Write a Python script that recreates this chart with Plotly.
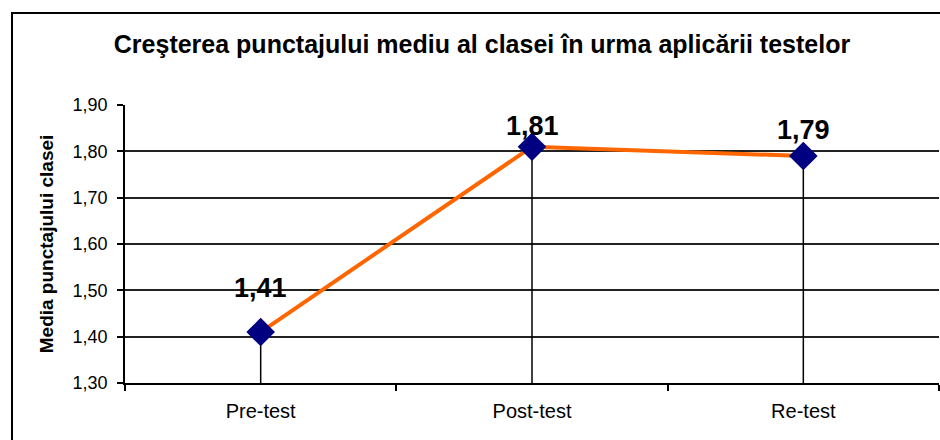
import plotly.graph_objects as go

categories = ["Pre-test", "Post-test", "Re-test"]
values = [1.41, 1.81, 1.79]
y_min, y_max, y_step = 1.30, 1.90, 0.10

title_text = "Creşterea punctajului mediu al clasei în urma aplicării testelor"
y_title = "Media punctajului clasei"

# styling: vertical offsets (px) of the value labels
label_shift = [44, 21, 26]

FONT = "Liberation Sans, Arial, sans-serif"

fig = go.Figure()

# drop lines from each point to the category axis
dx, dy = [], []
for c, v in zip(categories, values):
    dx += [c, c, None]
    dy += [v, y_min, None]
fig.add_trace(go.Scatter(x=dx, y=dy, mode="lines",
                         line=dict(color="black", width=1.5),
                         hoverinfo="skip", showlegend=False))

fig.add_trace(go.Scatter(
    x=categories, y=values, mode="lines+markers",
    line=dict(color="#FF6600", width=4),
    marker=dict(symbol="diamond", size=22, color="#000080",
                line=dict(width=0)),
    showlegend=False))

for c, v, s in zip(categories, values, label_shift):
    fig.add_annotation(x=c, y=v, text="<b>" + f"{v:.2f}".replace(".", ",") + "</b>",
                       showarrow=False, yshift=s, yanchor="middle",
                       font=dict(family=FONT, size=27, color="black"))

W, H = 940, 440
L, R, T, B = 125, 1, 105, 57
pw, ph = W - L - R, H - T - B

# outer chart border
fig.add_shape(type="rect", xref="paper", yref="paper",
              x0=(12 - L) / pw, x1=(W + 20 - L) / pw,
              y0=-(B + 30) / ph, y1=(H - B - 13) / ph,
              line=dict(color="black", width=2), layer="above")

fig.update_layout(
    width=W, height=H,
    margin=dict(l=L, r=R, t=T, b=B),
    paper_bgcolor="white", plot_bgcolor="white",
    separators=",.",
    font=dict(family=FONT, color="black"),
    title=dict(text="<b>" + title_text + "</b>", x=482 / W, xref="container",
               xanchor="center", y=1 - 44 / H, yref="container", yanchor="middle",
               font=dict(family=FONT, size=25, color="black")),
    xaxis=dict(type="category", range=[-0.5, len(categories) - 0.5],
               showline=True, linecolor="black", linewidth=1.5,
               ticks="outside", tickson="boundaries", ticklen=6, tickcolor="black",
               tickwidth=1.5,
               showgrid=False, tickfont=dict(size=20, color="black"),
               ticklabelstandoff=9),
    yaxis=dict(range=[y_min, y_max], dtick=y_step, tick0=y_min, tickformat=".2f",
               showgrid=True, gridcolor="#222222", gridwidth=1.5,
               showline=True, linecolor="black", linewidth=1.5, zeroline=False,
               ticks="outside", ticklen=6, tickcolor="black", tickwidth=1.5,
               tickfont=dict(size=18, color="black"), ticklabelstandoff=6,
               title=dict(text="<b>" + y_title + "</b>", standoff=14,
                          font=dict(size=19, color="black"))),
)

fig.write_html("out.html", config={"displayModeBar": False},
               post_script="document.body.style.margin='0px';")
